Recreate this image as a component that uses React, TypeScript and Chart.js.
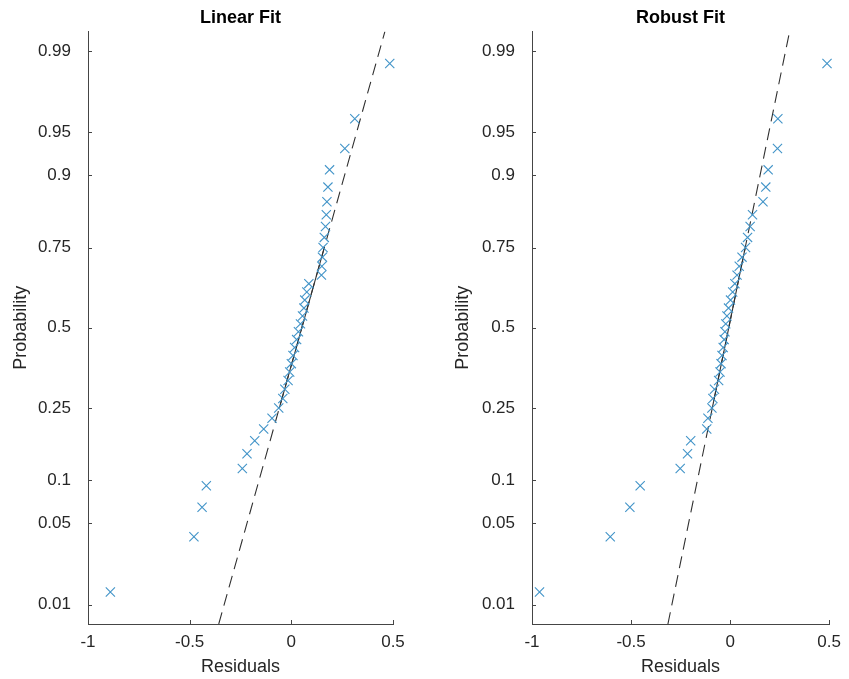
import React, { useEffect, useRef } from 'react';
import { Chart, registerables } from 'chart.js';
Chart.register(...registerables);

// ---- data ----
const probTicks = [0.01, 0.05, 0.1, 0.25, 0.5, 0.75, 0.9, 0.95, 0.99];
const probLabels = ['0.01', '0.05', '0.1', '0.25', '0.5', '0.75', '0.9', '0.95', '0.99'];
const xTicks = [-1, -0.5, 0, 0.5];
const xLimits = [-1, 0.5];
const zLimits = [-2.49, 2.49];

const linearResiduals = [
  -0.890, -0.479, -0.439, -0.418, -0.241, -0.218, -0.180, -0.136, -0.095, -0.062,
  -0.042, -0.032, -0.016, -0.008, 0.000, 0.008, 0.016, 0.026, 0.035, 0.045,
  0.055, 0.062, 0.066, 0.076, 0.086, 0.148, 0.150, 0.153, 0.156, 0.162,
  0.168, 0.172, 0.175, 0.180, 0.188, 0.263, 0.312, 0.484,
];
const robustResiduals = [
  -0.962, -0.605, -0.506, -0.454, -0.252, -0.215, -0.199, -0.118, -0.112, -0.092,
  -0.087, -0.079, -0.058, -0.051, -0.046, -0.041, -0.035, -0.030, -0.026, -0.022,
  -0.016, -0.008, 0.002, 0.013, 0.024, 0.035, 0.046, 0.060, 0.078, 0.088,
  0.101, 0.113, 0.166, 0.180, 0.192, 0.239, 0.241, 0.489,
];
// reference line: residual value at bottom and top of the probability axis
const linearRefLine = [-0.357, 0.46];
const robustRefLine = [-0.314, 0.30];
const quartileProbs = [0.25, 0.75];

// ---- helpers ----
function norminv(p: number): number {
  const a = [-3.969683028665376e1, 2.209460984245205e2, -2.759285104469687e2, 1.38357751867269e2, -3.066479806614716e1, 2.506628277459239];
  const b = [-5.447609879822406e1, 1.615858368580409e2, -1.556989798598866e2, 6.680131188771972e1, -1.328068155288572e1];
  const c = [-7.784894002430293e-3, -3.223964580411365e-1, -2.400758277161838, -2.549732539343734, 4.374664141464968, 2.938163982698783];
  const d = [7.784695709041462e-3, 3.224671290700398e-1, 2.445134137142996, 3.754408661907416];
  const pl = 0.02425;
  if (p < pl) {
    const q = Math.sqrt(-2 * Math.log(p));
    return (((((c[0] * q + c[1]) * q + c[2]) * q + c[3]) * q + c[4]) * q + c[5]) / ((((d[0] * q + d[1]) * q + d[2]) * q + d[3]) * q + 1);
  }
  if (p > 1 - pl) {
    const q = Math.sqrt(-2 * Math.log(1 - p));
    return -(((((c[0] * q + c[1]) * q + c[2]) * q + c[3]) * q + c[4]) * q + c[5]) / ((((d[0] * q + d[1]) * q + d[2]) * q + d[3]) * q + 1);
  }
  const q = p - 0.5;
  const r = q * q;
  return ((((((a[0] * r + a[1]) * r + a[2]) * r + a[3]) * r + a[4]) * r + a[5]) * q) / (((((b[0] * r + b[1]) * r + b[2]) * r + b[3]) * r + b[4]) * r + 1);
}

const FONT = '"Liberation Sans", Arial, Helvetica, sans-serif';
const AXIS = '#454545';
const TEXT = '#262626';
const MARKER = 'rgb(66,148,200)';

const inwardTicks = {
  id: 'inwardTicks',
  afterDatasetsDraw(chart: any) {
    const { ctx, chartArea, scales } = chart;
    ctx.save();
    ctx.strokeStyle = AXIS;
    ctx.lineWidth = 1;
    scales.x.ticks.forEach((t: any) => {
      const px = Math.round(scales.x.getPixelForValue(t.value)) + 0.5;
      ctx.beginPath();
      ctx.moveTo(px, chartArea.bottom);
      ctx.lineTo(px, chartArea.bottom - 4);
      ctx.stroke();
    });
    scales.y.ticks.forEach((t: any) => {
      const py = Math.round(scales.y.getPixelForValue(t.value)) + 0.5;
      ctx.beginPath();
      ctx.moveTo(chartArea.left, py);
      ctx.lineTo(chartArea.left + 4, py);
      ctx.stroke();
    });
    ctx.restore();
  },
};

function makeConfig(title: string, residuals: number[], refLine: number[], yTitlePad: number, rightPad: number): any {
  const n = residuals.length;
  const pts = residuals.map((r, i) => ({ x: r, y: norminv((i + 0.5) / n) }));
  const lineAt = (z: number) => refLine[0] + ((z - zLimits[0]) / (zLimits[1] - zLimits[0])) * (refLine[1] - refLine[0]);
  const dashed = [
    { x: refLine[0], y: zLimits[0] },
    { x: refLine[1], y: zLimits[1] },
  ];
  const solid = quartileProbs.map((p) => ({ x: lineAt(norminv(p)), y: norminv(p) }));
  return {
    type: 'scatter',
    data: {
      datasets: [
        {
          data: pts,
          pointStyle: 'crossRot',
          pointRadius: 6.5,
          pointBorderWidth: 1.1,
          borderColor: MARKER,
          backgroundColor: MARKER,
          showLine: false,
          clip: false,
        },
        {
          data: solid,
          showLine: true,
          pointRadius: 0,
          borderColor: '#303030',
          borderWidth: 1.1,
        },
        {
          data: dashed,
          showLine: true,
          pointRadius: 0,
          borderColor: '#303030',
          borderWidth: 1.1,
          borderDash: [12, 7],
        },
      ],
    },
    options: {
      responsive: false,
      animation: false,
      layout: { padding: { left: 0, right: rightPad, top: 0, bottom: 0 } },
      plugins: {
        legend: { display: false },
        tooltip: { enabled: false },
        title: {
          display: true,
          text: title,
          fullSize: false,
          color: '#000',
          font: { family: FONT, size: 18, weight: 'bold' },
          padding: { top: 7, bottom: 3 },
        },
      },
      scales: {
        x: {
          type: 'linear',
          min: xLimits[0],
          max: xLimits[1],
          afterBuildTicks: (scale: any) => {
            scale.ticks = xTicks.map((v) => ({ value: v }));
          },
          afterFit: (scale: any) => {
            scale.height = 55;
          },
          grid: { display: false, drawTicks: false },
          border: { display: true, color: AXIS, width: 1 },
          ticks: {
            color: TEXT,
            padding: 8,
            font: { family: FONT, size: 17 },
            callback: (v: any) => String(v),
          },
          title: {
            display: true,
            text: 'Residuals',
            color: TEXT,
            font: { family: FONT, size: 18 },
            padding: { top: 0, bottom: 1 },
          },
        },
        y: {
          type: 'linear',
          min: zLimits[0],
          max: zLimits[1],
          afterBuildTicks: (scale: any) => {
            scale.ticks = probTicks.map((p) => ({ value: norminv(p) }));
          },
          afterFit: (scale: any) => {
            scale.width = 88;
          },
          grid: { display: false, drawTicks: false },
          border: { display: true, color: AXIS, width: 1 },
          ticks: {
            color: TEXT,
            padding: 17,
            font: { family: FONT, size: 17 },
            callback: (_v: any, i: number) => probLabels[i],
          },
          title: {
            display: true,
            text: 'Probability',
            color: TEXT,
            font: { family: FONT, size: 18 },
            padding: { top: yTitlePad, bottom: 0 },
          },
        },
      },
    },
    plugins: [inwardTicks],
  };
}

function PlotCanvas(props: { left: number; width: number; cfg: () => any }) {
  const ref = useRef<HTMLCanvasElement | null>(null);
  useEffect(() => {
    if (!ref.current) return;
    const chart = new Chart(ref.current, props.cfg());
    return () => chart.destroy();
  }, []);
  return (
    <canvas
      ref={ref}
      width={props.width}
      height={679}
      style={{ position: 'absolute', left: props.left, top: 0, width: props.width, height: 679 }}
    />
  );
}

export default function App() {
  return (
    <div style={{ position: 'absolute', left: 0, top: 0, width: 849, height: 679, background: '#fff' }}>
      <PlotCanvas left={0} width={420} cfg={() => makeConfig('Linear Fit', linearResiduals, linearRefLine, 10, 27)} />
      <PlotCanvas left={444} width={405} cfg={() => makeConfig('Robust Fit', robustResiduals, robustRefLine, 8, 14)} />
    </div>
  );
}
